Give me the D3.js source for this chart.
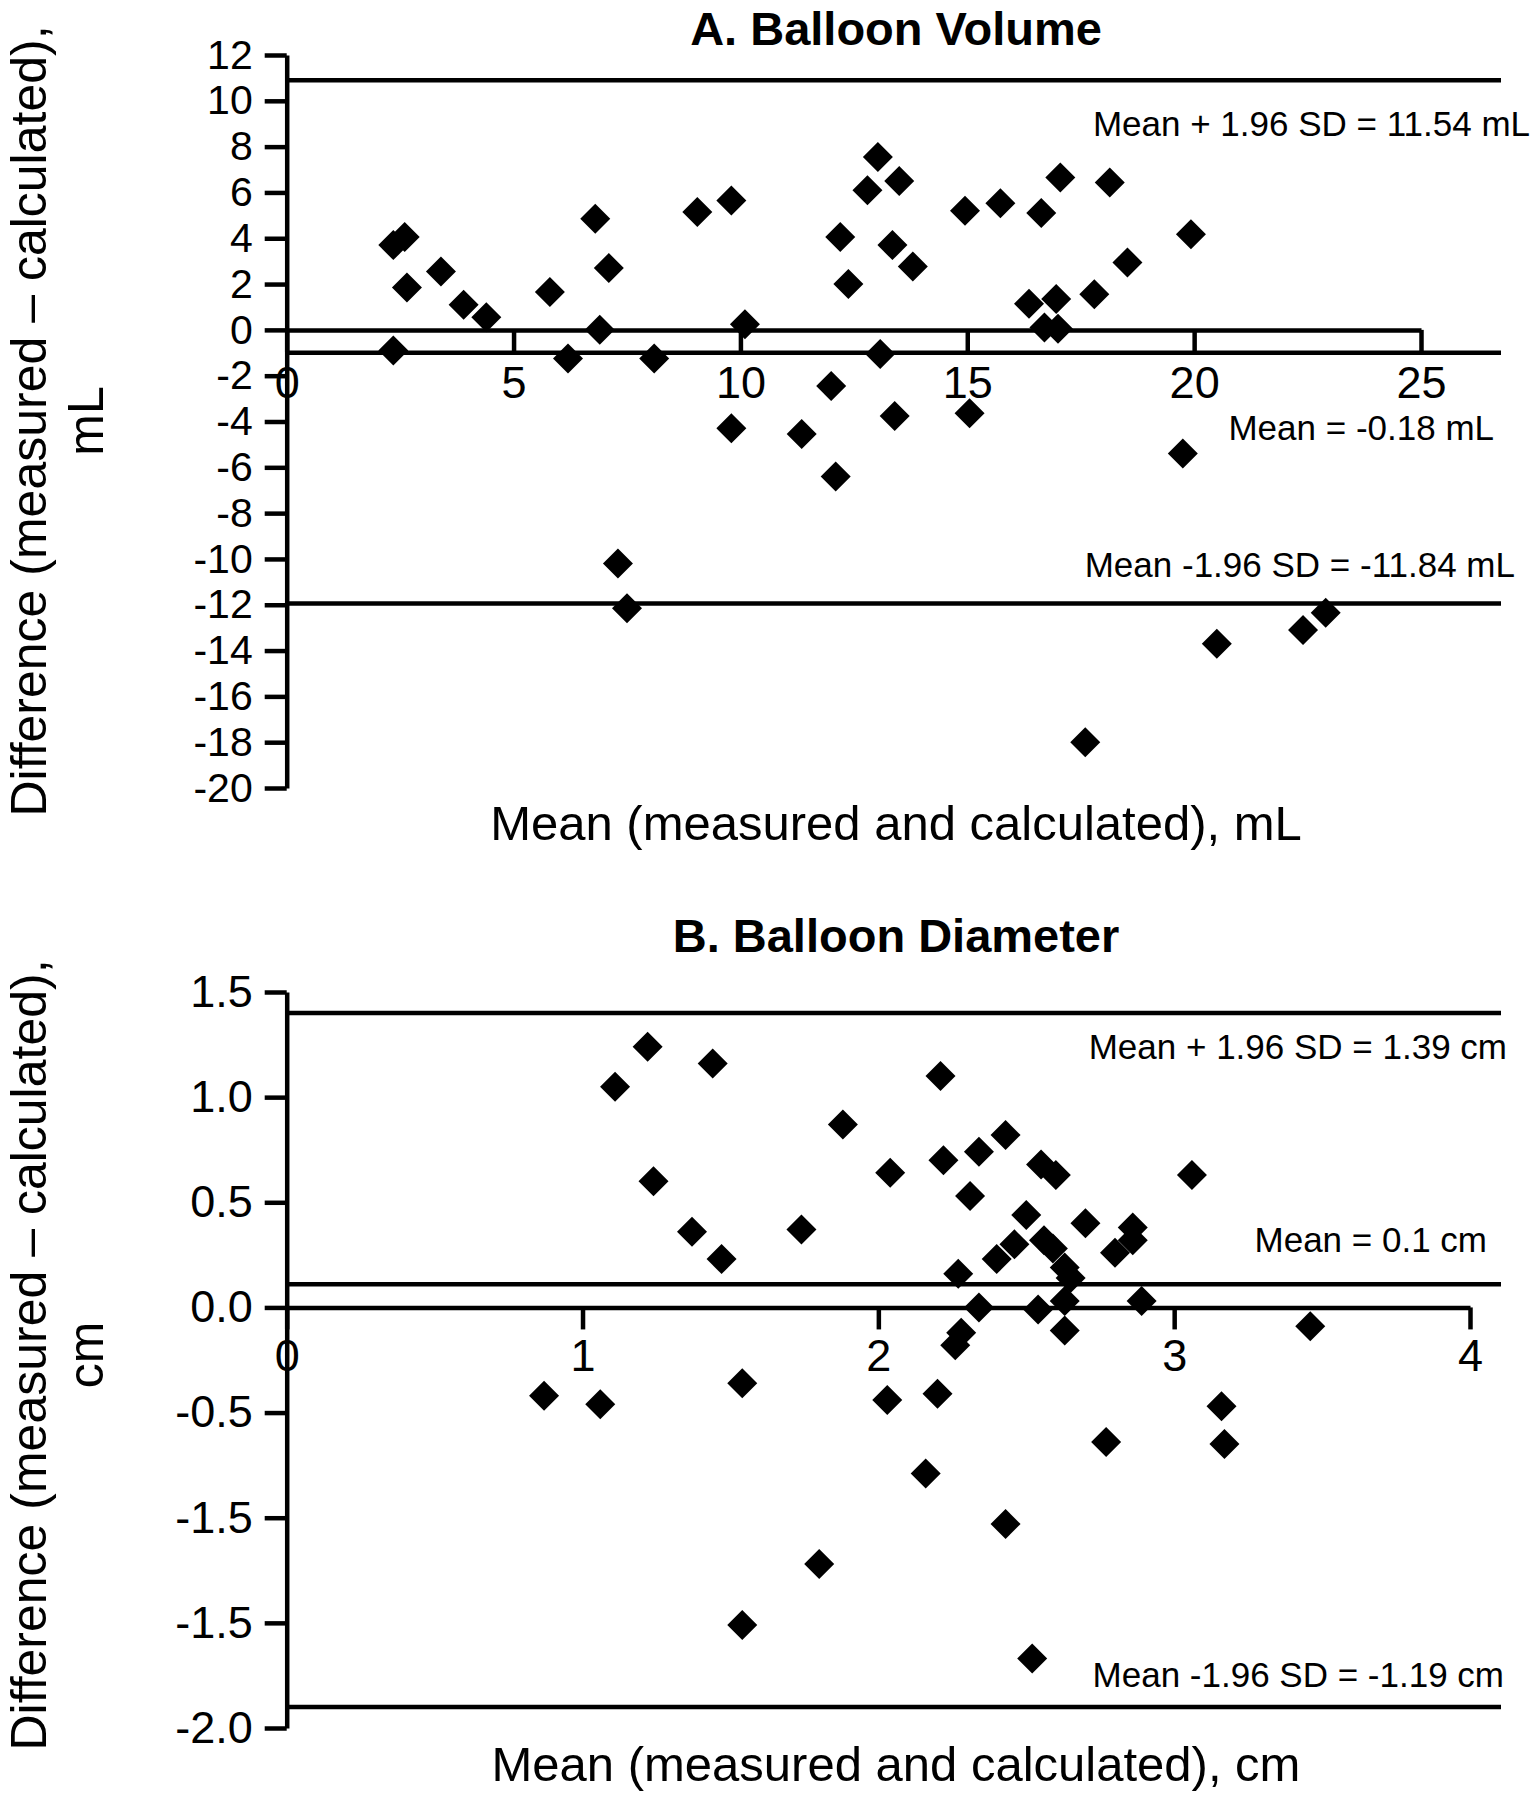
<!DOCTYPE html>
<html>
<head>
<meta charset="utf-8">
<script src="https://cdn.jsdelivr.net/npm/d3@7"></script>
<style>
body{margin:0;background:#fff;}
svg text{font-family:"Liberation Sans",Arial,Helvetica,sans-serif;fill:#000;}
</style>
</head>
<body>
<div id="main"></div>
<script>
const w = 1535;
const h = 1800;

// ---- A. Balloon Volume (mL) ----
const volMean = [2.35,2.6,2.65,2.35,3.4,3.9,4.4,5.8,6.2,6.8,7.1,6.9,7.3,7.5,8.1,9.05,9.8,10.1,9.8,11.35,
                 12.0,12.1,12.2,12.38,12.8,13.03,13.08,13.35,13.5,13.8,13.4,14.95,15.05,15.73,16.36,16.63,
                 16.96,16.7,17.05,17.8,18.14,18.53,19.93,19.75,17.6,20.5,22.4,22.9,17.0];
const volDiff = [3.7,4.05,1.85,-0.9,2.55,1.1,0.55,1.65,-1.25,4.85,2.7,0.0,-10.2,-12.15,-1.25,5.15,5.65,0.25,-4.3,-4.55,
                 -2.45,-6.4,4.05,2.0,6.1,7.55,-1.05,3.7,6.5,2.77,-3.76,5.2,-3.64,5.53,1.14,5.1,
                 1.35,0.1,6.65,1.56,6.43,2.94,4.18,-5.4,-18.0,-13.7,-13.1,-12.35,0.05];
const volYTicks = [12,10,8,6,4,2,0,-2,-4,-6,-8,-10,-12,-14,-16,-18,-20];
const volXTicks = [0,5,10,15,20,25];
const volLines = [10.9,-1.0,-11.95];   // levels where the lines are drawn in the figure
const volLineLabels = ["Mean + 1.96 SD = 11.54 mL","Mean = -0.18 mL","Mean -1.96 SD = -11.84 mL"];

// ---- B. Balloon Diameter (cm) ----
const diaMean = [2.21,1.88,2.04,2.22,2.34,2.43,2.31,2.55,2.6,3.06,1.74,2.5,2.7,2.86,2.86,2.46,2.4,2.56,2.59,2.8,
                 2.27,2.63,2.65,2.34,2.54,2.63,2.89,2.63,3.46,2.28,2.26,
                 1.11,1.22,1.44,1.24,1.37,1.47,
                 0.87,1.06,1.54,1.54,
                 2.03,2.2,2.16,2.43,1.8,2.52,2.77,3.16,3.17];
const diaDiff = [1.1,0.87,0.64,0.7,0.74,0.82,0.53,0.68,0.63,0.63,0.37,0.44,0.4,0.38,0.32,0.3,0.23,0.32,0.28,0.26,
                 0.16,0.19,0.14,0.0,-0.01,0.03,0.03,-0.11,-0.09,-0.12,-0.18,
                 1.05,1.24,1.16,0.6,0.36,0.23,
                 -0.42,-0.46,-0.36,-1.51,
                 -0.44,-0.41,-0.79,-1.03,-1.22,-1.67,-0.64,-0.47,-0.65];
const diaYTicks = [1.5,1.0,0.5,0,-0.5,-1.0,-1.5,-2.0];
const diaYTickLabels = ["1.5","1.0","0.5","0.0","-0.5","-1.5","-1.5","-2.0"];
const diaXTicks = [0,1,2,3,4];
const diaLines = [1.40,0.11,-1.90];
const diaLineLabels = ["Mean + 1.96 SD = 1.39 cm","Mean = 0.1 cm","Mean -1.96 SD = -1.19 cm"];

const svg = d3.select("#main")
              .append("svg")
              .attr("width", w)
              .attr("height", h);

function drawPanel(p) {
  const x = d3.scaleLinear().domain(p.xDomain).range([p.left, p.right]);
  const y = d3.scaleLinear().domain(p.yDomain).range([p.top, p.bottom]);
  const g = svg.append("g");

  // title
  g.append("text")
   .attr("x", 896).attr("y", p.titleY)
   .attr("text-anchor", "middle")
   .style("font-size", "47px").style("font-weight", "bold")
   .text(p.title);

  // horizontal reference lines
  g.selectAll("line.ref")
   .data(p.lines)
   .enter().append("line")
   .attr("class", "ref")
   .attr("x1", p.left).attr("x2", p.lineEnd)
   .attr("y1", d => y(d)).attr("y2", d => y(d))
   .attr("stroke", "#000").attr("stroke-width", 4.5);

  g.selectAll("text.ref")
   .data(p.lineLabels)
   .enter().append("text")
   .attr("class", "ref")
   .attr("x", (d, i) => p.labelPos[i][0])
   .attr("y", (d, i) => p.labelPos[i][1])
   .attr("text-anchor", "end")
   .style("font-size", "35px")
   .text(d => d);

  // y axis
  const yAxis = g.append("g")
   .attr("transform", "translate(" + p.left + ",0)")
   .call(d3.axisLeft(y).tickValues(p.yTicks).tickSize(22).tickSizeOuter(0).tickPadding(12)
          .tickFormat((d, i) => p.yTickLabels ? p.yTickLabels[i] : d));

  // x axis on the zero line
  const xAxis = g.append("g")
   .attr("transform", "translate(0," + y(0) + ")")
   .call(d3.axisBottom(x).tickValues(p.xTicks).tickSize(22).tickSizeOuter(0).tickPadding(p.xPad)
          .tickFormat(d3.format("d")));

  [yAxis, xAxis].forEach(a => {
    a.selectAll("path, line").attr("stroke", "#000").attr("stroke-width", 4.5);
    a.selectAll("text").attr("fill", "#000");
  });
  yAxis.attr("font-size", p.yTickSize);
  xAxis.attr("font-size", 45);

  // diamonds
  const diamond = d3.symbol().type(d3.symbolSquare).size(450);
  g.selectAll("path.pt")
   .data(p.xs)
   .enter().append("path")
   .attr("class", "pt")
   .attr("d", diamond)
   .attr("transform", (d, i) => "translate(" + x(d) + "," + y(p.ys[i]) + ") rotate(45)")
   .attr("fill", "#000");

  // axis titles
  g.append("text")
   .attr("x", 896).attr("y", p.xLabelY)
   .attr("text-anchor", "middle")
   .style("font-size", "49px")
   .text(p.xLabel);

  const yl = g.append("g");
  yl.append("text")
    .attr("transform", "translate(46," + p.yLabelC + ") rotate(-90)")
    .attr("text-anchor", "middle")
    .style("font-size", "50px")
    .text("Difference (measured \u2013 calculated),");
  yl.append("text")
    .attr("transform", "translate(103," + p.yLabelC + ") rotate(-90)")
    .attr("text-anchor", "middle")
    .style("font-size", "50px")
    .text(p.unit);
}

drawPanel({
  title: "A. Balloon Volume", titleY: 45,
  xs: volMean, ys: volDiff,
  xDomain: [0, 25], yDomain: [12, -20],
  left: 286.7, right: 1421, top: 55, bottom: 788, lineEnd: 1501,
  yTicks: volYTicks, yTickSize: 41, xTicks: volXTicks, xPad: 14,
  lines: volLines, lineLabels: volLineLabels,
  labelPos: [[1530, 136], [1494, 440], [1515, 577]],
  xLabel: "Mean (measured and calculated), mL", xLabelY: 840,
  unit: "mL", yLabelC: 421
});

drawPanel({
  title: "B. Balloon Diameter", titleY: 952,
  xs: diaMean, ys: diaDiff,
  xDomain: [0, 4], yDomain: [1.5, -2.0],
  left: 286.7, right: 1470, top: 992, bottom: 1728, lineEnd: 1501,
  yTicks: diaYTicks, yTickLabels: diaYTickLabels, yTickSize: 45, xTicks: diaXTicks, xPad: 10,
  lines: diaLines, lineLabels: diaLineLabels,
  labelPos: [[1507, 1059], [1487, 1252], [1504, 1687]],
  xLabel: "Mean (measured and calculated), cm", xLabelY: 1781,
  unit: "cm", yLabelC: 1355
});
</script>
</body>
</html>
